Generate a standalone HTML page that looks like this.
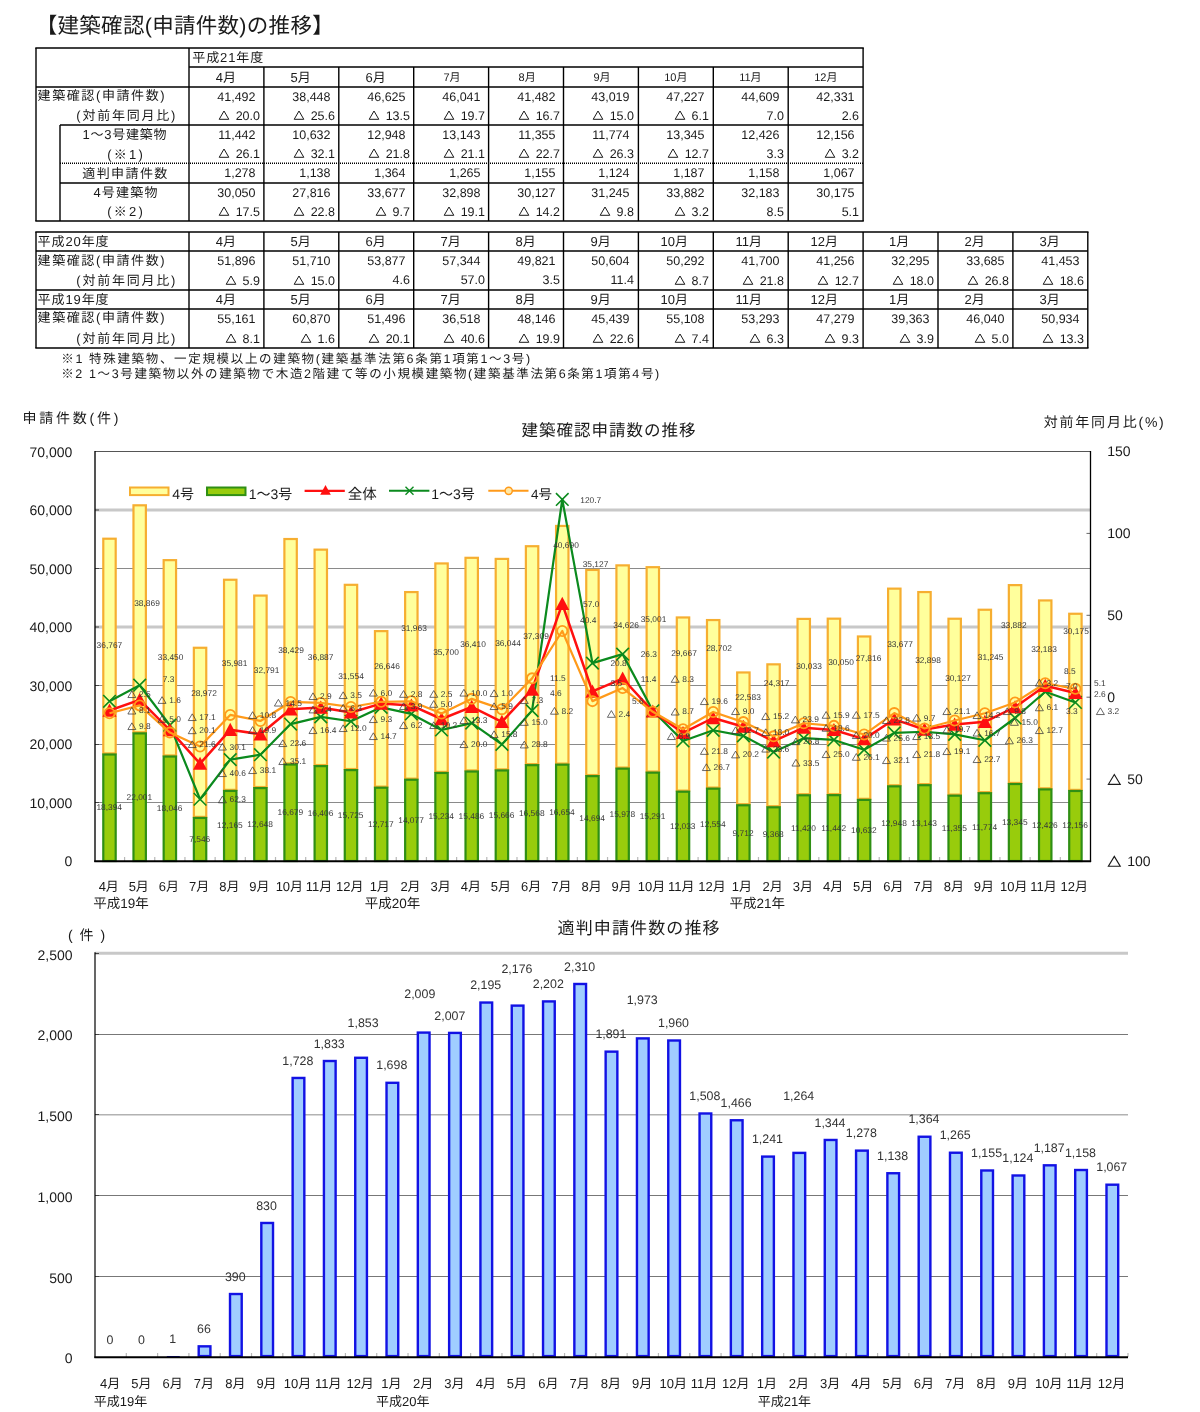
<!DOCTYPE html>
<html lang="ja"><head><meta charset="utf-8"><title>建築確認(申請件数)の推移</title>
<style>
html,body{margin:0;padding:0;background:#fff}
body{width:1200px;height:1412px;overflow:hidden;position:relative;font-family:"Liberation Sans","Noto Sans CJK JP",sans-serif;color:#1a1a1a;text-rendering:geometricPrecision;-webkit-font-smoothing:antialiased}
#page{position:absolute;left:0;top:0;width:1200px;height:1412px;overflow:hidden;background:#fff;filter:blur(.6px)}
svg{display:block;overflow:visible}
svg.j{fill:#1a1a1a}
svg.tri{display:inline-block;vertical-align:-1.5px;margin-right:2.5px}
table.t{position:absolute;border-collapse:collapse;table-layout:fixed;font-size:12.5px;line-height:12px}
table.t td,table.t th{padding:0;margin:0;border:0;font-weight:normal;white-space:nowrap;overflow:visible;vertical-align:middle}
table.t td.n{text-align:right;padding-right:8.5px}
table.t td.p{text-align:right;padding-right:4px}
table.t td.l{text-align:left}
.sr{position:absolute;width:1px;height:1px;margin:0;padding:0;overflow:hidden;clip:rect(0 0 0 0);clip-path:inset(50%);white-space:nowrap;font-size:12px;line-height:12px}
svg text{font-family:"Liberation Sans","Noto Sans CJK JP",sans-serif;text-rendering:geometricPrecision}
</style></head>
<body><div id="page">
<h1 style="position:absolute;left:0;top:0;margin:0;width:400px;height:44px;font-size:20px;font-weight:normal"><svg width="400" height="44" viewBox="0 0 400 44" fill="#1a1a1a"><text x="35.69" y="33.2" font-size="21.5" textLength="298">【建築確認(申請件数)の推移】</text></svg></h1><table class="t" style="left:36px;top:48px;width:827px"><colgroup><col style="width:153px"><col style="width:75px"><col style="width:75px"><col style="width:75px"><col style="width:75px"><col style="width:75px"><col style="width:74px"><col style="width:75px"><col style="width:75px"><col style="width:75px"></colgroup><tr style="height:19px"><td rowspan="2"></td><td colspan="9" class="l"><svg class="j" width="120" height="19" viewBox="0 0 120 19"><text x="3.29" y="14.04" font-size="13" textLength="71">平成21年度</text></svg></td></tr><tr style="height:20px"><td class="m"><svg class="j" width="74" height="19" viewBox="0 0 74 19"><text x="26.68" y="14.04" font-size="13">4月</text></svg></td><td class="m"><svg class="j" width="74" height="19" viewBox="0 0 74 19"><text x="26.49" y="14.04" font-size="13">5月</text></svg></td><td class="m"><svg class="j" width="74" height="19" viewBox="0 0 74 19"><text x="26.5" y="14.04" font-size="13">6月</text></svg></td><td class="m"><svg class="j" width="74" height="19" viewBox="0 0 74 19"><text x="29.47" y="13.12" font-size="11">7月</text></svg></td><td class="m"><svg class="j" width="74" height="19" viewBox="0 0 74 19"><text x="29.56" y="13.12" font-size="11">8月</text></svg></td><td class="m"><svg class="j" width="74" height="19" viewBox="0 0 74 19"><text x="29.45" y="13.12" font-size="11">9月</text></svg></td><td class="m"><svg class="j" width="74" height="19" viewBox="0 0 74 19"><text x="26.15" y="13.12" font-size="11">10月</text></svg></td><td class="m"><svg class="j" width="74" height="19" viewBox="0 0 74 19"><text x="26.15" y="13.12" font-size="11">11月</text></svg></td><td class="m"><svg class="j" width="74" height="19" viewBox="0 0 74 19"><text x="26.15" y="13.12" font-size="11">12月</text></svg></td></tr><tr style="height:19px"><th><svg class="j" width="153" height="19" viewBox="0 0 153 19"><text x="1.59" y="12.54" font-size="13" textLength="127">建築確認(申請件数)</text></svg></th><td class="n">41,492</td><td class="n">38,448</td><td class="n">46,625</td><td class="n">46,041</td><td class="n">41,482</td><td class="n">43,019</td><td class="n">47,227</td><td class="n">44,609</td><td class="n">42,331</td></tr><tr style="height:19px"><th><svg class="j" width="153" height="19" viewBox="0 0 153 19"><text x="40.31" y="14.04" font-size="13" textLength="99">(対前年同月比)</text></svg></th><td class="p"><span class="sr">△</span><svg class="tri" width="12" height="12" viewBox="0 0 12 12"><path d="M6 2 L10.8 10.3 H1.2 Z" fill="none" stroke="#1a1a1a" stroke-width="1"/></svg> 20.0</td><td class="p"><span class="sr">△</span><svg class="tri" width="12" height="12" viewBox="0 0 12 12"><path d="M6 2 L10.8 10.3 H1.2 Z" fill="none" stroke="#1a1a1a" stroke-width="1"/></svg> 25.6</td><td class="p"><span class="sr">△</span><svg class="tri" width="12" height="12" viewBox="0 0 12 12"><path d="M6 2 L10.8 10.3 H1.2 Z" fill="none" stroke="#1a1a1a" stroke-width="1"/></svg> 13.5</td><td class="p"><span class="sr">△</span><svg class="tri" width="12" height="12" viewBox="0 0 12 12"><path d="M6 2 L10.8 10.3 H1.2 Z" fill="none" stroke="#1a1a1a" stroke-width="1"/></svg> 19.7</td><td class="p"><span class="sr">△</span><svg class="tri" width="12" height="12" viewBox="0 0 12 12"><path d="M6 2 L10.8 10.3 H1.2 Z" fill="none" stroke="#1a1a1a" stroke-width="1"/></svg> 16.7</td><td class="p"><span class="sr">△</span><svg class="tri" width="12" height="12" viewBox="0 0 12 12"><path d="M6 2 L10.8 10.3 H1.2 Z" fill="none" stroke="#1a1a1a" stroke-width="1"/></svg> 15.0</td><td class="p"><span class="sr">△</span><svg class="tri" width="12" height="12" viewBox="0 0 12 12"><path d="M6 2 L10.8 10.3 H1.2 Z" fill="none" stroke="#1a1a1a" stroke-width="1"/></svg> 6.1</td><td class="p">7.0</td><td class="p">2.6</td></tr><tr style="height:19px"><th><svg class="j" width="153" height="19" viewBox="0 0 153 19"><text x="46.54" y="14.04" font-size="13" textLength="84">1〜3号建築物</text></svg></th><td class="n">11,442</td><td class="n">10,632</td><td class="n">12,948</td><td class="n">13,143</td><td class="n">11,355</td><td class="n">11,774</td><td class="n">13,345</td><td class="n">12,426</td><td class="n">12,156</td></tr><tr style="height:19px"><th><svg class="j" width="153" height="19" viewBox="0 0 153 19"><text x="71.25" y="14.74" font-size="13" textLength="35.5">(※1)</text></svg></th><td class="p"><span class="sr">△</span><svg class="tri" width="12" height="12" viewBox="0 0 12 12"><path d="M6 2 L10.8 10.3 H1.2 Z" fill="none" stroke="#1a1a1a" stroke-width="1"/></svg> 26.1</td><td class="p"><span class="sr">△</span><svg class="tri" width="12" height="12" viewBox="0 0 12 12"><path d="M6 2 L10.8 10.3 H1.2 Z" fill="none" stroke="#1a1a1a" stroke-width="1"/></svg> 32.1</td><td class="p"><span class="sr">△</span><svg class="tri" width="12" height="12" viewBox="0 0 12 12"><path d="M6 2 L10.8 10.3 H1.2 Z" fill="none" stroke="#1a1a1a" stroke-width="1"/></svg> 21.8</td><td class="p"><span class="sr">△</span><svg class="tri" width="12" height="12" viewBox="0 0 12 12"><path d="M6 2 L10.8 10.3 H1.2 Z" fill="none" stroke="#1a1a1a" stroke-width="1"/></svg> 21.1</td><td class="p"><span class="sr">△</span><svg class="tri" width="12" height="12" viewBox="0 0 12 12"><path d="M6 2 L10.8 10.3 H1.2 Z" fill="none" stroke="#1a1a1a" stroke-width="1"/></svg> 22.7</td><td class="p"><span class="sr">△</span><svg class="tri" width="12" height="12" viewBox="0 0 12 12"><path d="M6 2 L10.8 10.3 H1.2 Z" fill="none" stroke="#1a1a1a" stroke-width="1"/></svg> 26.3</td><td class="p"><span class="sr">△</span><svg class="tri" width="12" height="12" viewBox="0 0 12 12"><path d="M6 2 L10.8 10.3 H1.2 Z" fill="none" stroke="#1a1a1a" stroke-width="1"/></svg> 12.7</td><td class="p">3.3</td><td class="p"><span class="sr">△</span><svg class="tri" width="12" height="12" viewBox="0 0 12 12"><path d="M6 2 L10.8 10.3 H1.2 Z" fill="none" stroke="#1a1a1a" stroke-width="1"/></svg> 3.2</td></tr><tr style="height:20px"><th><svg class="j" width="153" height="20" viewBox="0 0 153 20"><text x="46.32" y="15.24" font-size="13" textLength="85">適判申請件数</text></svg></th><td class="n">1,278</td><td class="n">1,138</td><td class="n">1,364</td><td class="n">1,265</td><td class="n">1,155</td><td class="n">1,124</td><td class="n">1,187</td><td class="n">1,158</td><td class="n">1,067</td></tr><tr style="height:19px"><th><svg class="j" width="153" height="19" viewBox="0 0 153 19"><text x="57.43" y="14.34" font-size="13" textLength="64">4号建築物</text></svg></th><td class="n">30,050</td><td class="n">27,816</td><td class="n">33,677</td><td class="n">32,898</td><td class="n">30,127</td><td class="n">31,245</td><td class="n">33,882</td><td class="n">32,183</td><td class="n">30,175</td></tr><tr style="height:19px"><th><svg class="j" width="153" height="19" viewBox="0 0 153 19"><text x="71.25" y="14.04" font-size="13" textLength="35.5">(※2)</text></svg></th><td class="p"><span class="sr">△</span><svg class="tri" width="12" height="12" viewBox="0 0 12 12"><path d="M6 2 L10.8 10.3 H1.2 Z" fill="none" stroke="#1a1a1a" stroke-width="1"/></svg> 17.5</td><td class="p"><span class="sr">△</span><svg class="tri" width="12" height="12" viewBox="0 0 12 12"><path d="M6 2 L10.8 10.3 H1.2 Z" fill="none" stroke="#1a1a1a" stroke-width="1"/></svg> 22.8</td><td class="p"><span class="sr">△</span><svg class="tri" width="12" height="12" viewBox="0 0 12 12"><path d="M6 2 L10.8 10.3 H1.2 Z" fill="none" stroke="#1a1a1a" stroke-width="1"/></svg> 9.7</td><td class="p"><span class="sr">△</span><svg class="tri" width="12" height="12" viewBox="0 0 12 12"><path d="M6 2 L10.8 10.3 H1.2 Z" fill="none" stroke="#1a1a1a" stroke-width="1"/></svg> 19.1</td><td class="p"><span class="sr">△</span><svg class="tri" width="12" height="12" viewBox="0 0 12 12"><path d="M6 2 L10.8 10.3 H1.2 Z" fill="none" stroke="#1a1a1a" stroke-width="1"/></svg> 14.2</td><td class="p"><span class="sr">△</span><svg class="tri" width="12" height="12" viewBox="0 0 12 12"><path d="M6 2 L10.8 10.3 H1.2 Z" fill="none" stroke="#1a1a1a" stroke-width="1"/></svg> 9.8</td><td class="p"><span class="sr">△</span><svg class="tri" width="12" height="12" viewBox="0 0 12 12"><path d="M6 2 L10.8 10.3 H1.2 Z" fill="none" stroke="#1a1a1a" stroke-width="1"/></svg> 3.2</td><td class="p">8.5</td><td class="p">5.1</td></tr></table><table class="t" style="left:36px;top:232px;width:1052px"><colgroup><col style="width:153px"><col style="width:75px"><col style="width:75px"><col style="width:75px"><col style="width:75px"><col style="width:75px"><col style="width:74px"><col style="width:75px"><col style="width:75px"><col style="width:75px"><col style="width:75px"><col style="width:75px"><col style="width:75px"></colgroup><tr style="height:19px"><th><svg class="j" width="153" height="19" viewBox="0 0 153 19"><text x="1.59" y="14.04" font-size="13" textLength="71">平成20年度</text></svg></th><td class="m"><svg class="j" width="74" height="19" viewBox="0 0 74 19"><text x="26.68" y="14.04" font-size="13">4月</text></svg></td><td class="m"><svg class="j" width="74" height="19" viewBox="0 0 74 19"><text x="26.49" y="14.04" font-size="13">5月</text></svg></td><td class="m"><svg class="j" width="74" height="19" viewBox="0 0 74 19"><text x="26.5" y="14.04" font-size="13">6月</text></svg></td><td class="m"><svg class="j" width="74" height="19" viewBox="0 0 74 19"><text x="26.5" y="14.04" font-size="13">7月</text></svg></td><td class="m"><svg class="j" width="74" height="19" viewBox="0 0 74 19"><text x="26.6" y="14.04" font-size="13">8月</text></svg></td><td class="m"><svg class="j" width="74" height="19" viewBox="0 0 74 19"><text x="26.47" y="14.04" font-size="13">9月</text></svg></td><td class="m"><svg class="j" width="74" height="19" viewBox="0 0 74 19"><text x="22.47" y="14.04" font-size="13">10月</text></svg></td><td class="m"><svg class="j" width="74" height="19" viewBox="0 0 74 19"><text x="22.47" y="14.04" font-size="13">11月</text></svg></td><td class="m"><svg class="j" width="74" height="19" viewBox="0 0 74 19"><text x="22.47" y="14.04" font-size="13">12月</text></svg></td><td class="m"><svg class="j" width="74" height="19" viewBox="0 0 74 19"><text x="26.02" y="14.04" font-size="13">1月</text></svg></td><td class="m"><svg class="j" width="74" height="19" viewBox="0 0 74 19"><text x="26.58" y="14.04" font-size="13">2月</text></svg></td><td class="m"><svg class="j" width="74" height="19" viewBox="0 0 74 19"><text x="26.56" y="14.04" font-size="13">3月</text></svg></td></tr><tr style="height:19px"><th><svg class="j" width="153" height="19" viewBox="0 0 153 19"><text x="1.59" y="14.04" font-size="13" textLength="127">建築確認(申請件数)</text></svg></th><td class="n">51,896</td><td class="n">51,710</td><td class="n">53,877</td><td class="n">57,344</td><td class="n">49,821</td><td class="n">50,604</td><td class="n">50,292</td><td class="n">41,700</td><td class="n">41,256</td><td class="n">32,295</td><td class="n">33,685</td><td class="n">41,453</td></tr><tr style="height:20px"><th><svg class="j" width="153" height="20" viewBox="0 0 153 20"><text x="40.31" y="14.54" font-size="13" textLength="99">(対前年同月比)</text></svg></th><td class="p"><span class="sr">△</span><svg class="tri" width="12" height="12" viewBox="0 0 12 12"><path d="M6 2 L10.8 10.3 H1.2 Z" fill="none" stroke="#1a1a1a" stroke-width="1"/></svg> 5.9</td><td class="p"><span class="sr">△</span><svg class="tri" width="12" height="12" viewBox="0 0 12 12"><path d="M6 2 L10.8 10.3 H1.2 Z" fill="none" stroke="#1a1a1a" stroke-width="1"/></svg> 15.0</td><td class="p">4.6</td><td class="p">57.0</td><td class="p">3.5</td><td class="p">11.4</td><td class="p"><span class="sr">△</span><svg class="tri" width="12" height="12" viewBox="0 0 12 12"><path d="M6 2 L10.8 10.3 H1.2 Z" fill="none" stroke="#1a1a1a" stroke-width="1"/></svg> 8.7</td><td class="p"><span class="sr">△</span><svg class="tri" width="12" height="12" viewBox="0 0 12 12"><path d="M6 2 L10.8 10.3 H1.2 Z" fill="none" stroke="#1a1a1a" stroke-width="1"/></svg> 21.8</td><td class="p"><span class="sr">△</span><svg class="tri" width="12" height="12" viewBox="0 0 12 12"><path d="M6 2 L10.8 10.3 H1.2 Z" fill="none" stroke="#1a1a1a" stroke-width="1"/></svg> 12.7</td><td class="p"><span class="sr">△</span><svg class="tri" width="12" height="12" viewBox="0 0 12 12"><path d="M6 2 L10.8 10.3 H1.2 Z" fill="none" stroke="#1a1a1a" stroke-width="1"/></svg> 18.0</td><td class="p"><span class="sr">△</span><svg class="tri" width="12" height="12" viewBox="0 0 12 12"><path d="M6 2 L10.8 10.3 H1.2 Z" fill="none" stroke="#1a1a1a" stroke-width="1"/></svg> 26.8</td><td class="p"><span class="sr">△</span><svg class="tri" width="12" height="12" viewBox="0 0 12 12"><path d="M6 2 L10.8 10.3 H1.2 Z" fill="none" stroke="#1a1a1a" stroke-width="1"/></svg> 18.6</td></tr><tr style="height:19px"><th><svg class="j" width="153" height="19" viewBox="0 0 153 19"><text x="1.59" y="14.04" font-size="13" textLength="71">平成19年度</text></svg></th><td class="m"><svg class="j" width="74" height="19" viewBox="0 0 74 19"><text x="26.68" y="14.04" font-size="13">4月</text></svg></td><td class="m"><svg class="j" width="74" height="19" viewBox="0 0 74 19"><text x="26.49" y="14.04" font-size="13">5月</text></svg></td><td class="m"><svg class="j" width="74" height="19" viewBox="0 0 74 19"><text x="26.5" y="14.04" font-size="13">6月</text></svg></td><td class="m"><svg class="j" width="74" height="19" viewBox="0 0 74 19"><text x="26.5" y="14.04" font-size="13">7月</text></svg></td><td class="m"><svg class="j" width="74" height="19" viewBox="0 0 74 19"><text x="26.6" y="14.04" font-size="13">8月</text></svg></td><td class="m"><svg class="j" width="74" height="19" viewBox="0 0 74 19"><text x="26.47" y="14.04" font-size="13">9月</text></svg></td><td class="m"><svg class="j" width="74" height="19" viewBox="0 0 74 19"><text x="22.47" y="14.04" font-size="13">10月</text></svg></td><td class="m"><svg class="j" width="74" height="19" viewBox="0 0 74 19"><text x="22.47" y="14.04" font-size="13">11月</text></svg></td><td class="m"><svg class="j" width="74" height="19" viewBox="0 0 74 19"><text x="22.47" y="14.04" font-size="13">12月</text></svg></td><td class="m"><svg class="j" width="74" height="19" viewBox="0 0 74 19"><text x="26.02" y="14.04" font-size="13">1月</text></svg></td><td class="m"><svg class="j" width="74" height="19" viewBox="0 0 74 19"><text x="26.58" y="14.04" font-size="13">2月</text></svg></td><td class="m"><svg class="j" width="74" height="19" viewBox="0 0 74 19"><text x="26.56" y="14.04" font-size="13">3月</text></svg></td></tr><tr style="height:19px"><th><svg class="j" width="153" height="19" viewBox="0 0 153 19"><text x="1.59" y="13.24" font-size="13" textLength="127">建築確認(申請件数)</text></svg></th><td class="n">55,161</td><td class="n">60,870</td><td class="n">51,496</td><td class="n">36,518</td><td class="n">48,146</td><td class="n">45,439</td><td class="n">55,108</td><td class="n">53,293</td><td class="n">47,279</td><td class="n">39,363</td><td class="n">46,040</td><td class="n">50,934</td></tr><tr style="height:20px"><th><svg class="j" width="153" height="20" viewBox="0 0 153 20"><text x="40.31" y="14.54" font-size="13" textLength="99">(対前年同月比)</text></svg></th><td class="p"><span class="sr">△</span><svg class="tri" width="12" height="12" viewBox="0 0 12 12"><path d="M6 2 L10.8 10.3 H1.2 Z" fill="none" stroke="#1a1a1a" stroke-width="1"/></svg> 8.1</td><td class="p"><span class="sr">△</span><svg class="tri" width="12" height="12" viewBox="0 0 12 12"><path d="M6 2 L10.8 10.3 H1.2 Z" fill="none" stroke="#1a1a1a" stroke-width="1"/></svg> 1.6</td><td class="p"><span class="sr">△</span><svg class="tri" width="12" height="12" viewBox="0 0 12 12"><path d="M6 2 L10.8 10.3 H1.2 Z" fill="none" stroke="#1a1a1a" stroke-width="1"/></svg> 20.1</td><td class="p"><span class="sr">△</span><svg class="tri" width="12" height="12" viewBox="0 0 12 12"><path d="M6 2 L10.8 10.3 H1.2 Z" fill="none" stroke="#1a1a1a" stroke-width="1"/></svg> 40.6</td><td class="p"><span class="sr">△</span><svg class="tri" width="12" height="12" viewBox="0 0 12 12"><path d="M6 2 L10.8 10.3 H1.2 Z" fill="none" stroke="#1a1a1a" stroke-width="1"/></svg> 19.9</td><td class="p"><span class="sr">△</span><svg class="tri" width="12" height="12" viewBox="0 0 12 12"><path d="M6 2 L10.8 10.3 H1.2 Z" fill="none" stroke="#1a1a1a" stroke-width="1"/></svg> 22.6</td><td class="p"><span class="sr">△</span><svg class="tri" width="12" height="12" viewBox="0 0 12 12"><path d="M6 2 L10.8 10.3 H1.2 Z" fill="none" stroke="#1a1a1a" stroke-width="1"/></svg> 7.4</td><td class="p"><span class="sr">△</span><svg class="tri" width="12" height="12" viewBox="0 0 12 12"><path d="M6 2 L10.8 10.3 H1.2 Z" fill="none" stroke="#1a1a1a" stroke-width="1"/></svg> 6.3</td><td class="p"><span class="sr">△</span><svg class="tri" width="12" height="12" viewBox="0 0 12 12"><path d="M6 2 L10.8 10.3 H1.2 Z" fill="none" stroke="#1a1a1a" stroke-width="1"/></svg> 9.3</td><td class="p"><span class="sr">△</span><svg class="tri" width="12" height="12" viewBox="0 0 12 12"><path d="M6 2 L10.8 10.3 H1.2 Z" fill="none" stroke="#1a1a1a" stroke-width="1"/></svg> 3.9</td><td class="p"><span class="sr">△</span><svg class="tri" width="12" height="12" viewBox="0 0 12 12"><path d="M6 2 L10.8 10.3 H1.2 Z" fill="none" stroke="#1a1a1a" stroke-width="1"/></svg> 5.0</td><td class="p"><span class="sr">△</span><svg class="tri" width="12" height="12" viewBox="0 0 12 12"><path d="M6 2 L10.8 10.3 H1.2 Z" fill="none" stroke="#1a1a1a" stroke-width="1"/></svg> 13.3</td></tr></table><svg style="position:absolute;left:0px;top:40px" width="1200" height="320" viewBox="0 40 1200 320" class="grid"><g stroke="#000" stroke-width="1.4" fill="none"><path d="M35.3 48L863.8 48"/><path d="M35.3 221L863.8 221"/><path d="M36 48L36 221"/><path d="M863.1 48L863.1 221"/><path d="M189 48L189 221"/><path d="M263.9 67L263.9 221"/><path d="M338.8 67L338.8 221"/><path d="M413.7 67L413.7 221"/><path d="M488.6 67L488.6 221"/><path d="M563.5 67L563.5 221"/><path d="M638.4 67L638.4 221"/><path d="M713.3 67L713.3 221"/><path d="M788.2 67L788.2 221"/><path d="M189 67L863.1 67"/><path d="M36 87L863.1 87"/><path d="M60 125L863.1 125"/><path d="M60 125L60 221"/><path d="M60 163.3L863.1 163.3" stroke-dasharray="1 1" stroke-width="1.5"/><path d="M60 183L863.1 183"/><path d="M35.3 232L1088.5 232"/><path d="M35.3 348L1088.5 348"/><path d="M36 232L36 348"/><path d="M189 232L189 348"/><path d="M263.9 232L263.9 348"/><path d="M338.8 232L338.8 348"/><path d="M413.7 232L413.7 348"/><path d="M488.6 232L488.6 348"/><path d="M563.5 232L563.5 348"/><path d="M638.4 232L638.4 348"/><path d="M713.3 232L713.3 348"/><path d="M788.2 232L788.2 348"/><path d="M863.1 232L863.1 348"/><path d="M938 232L938 348"/><path d="M1012.9 232L1012.9 348"/><path d="M1087.8 232L1087.8 348"/><path d="M36 251L1087.8 251"/><path d="M36 290L1087.8 290"/><path d="M36 309L1087.8 309"/></g></svg><svg style="position:absolute;left:0px;top:350px" width="1200" height="36" viewBox="0 350 1200 36"><g fill="#1a1a1a" font-size="12.5"><text x="61.21" y="362.6" textLength="469">※1 特殊建築物、一定規模以上の建築物(建築基準法第6条第1項第1〜3号)</text><text x="61.22" y="378" textLength="598">※2 1〜3号建築物以外の建築物で木造2階建て等の小規模建築物(建築基準法第6条第1項第4号)</text></g></svg><svg style="position:absolute;left:0px;top:400px" width="1200" height="520" viewBox="0 400 1200 520"><g fill="#1a1a1a"><text x="22.44" y="423.3" font-size="14" textLength="96">申請件数(件)</text><text x="1043.78" y="426.6" font-size="14" textLength="120">対前年同月比(%)</text><text x="521.62" y="436.4" font-size="16.5" textLength="174">建築確認申請数の推移</text></g><path d="M95 802.5H1090.5" stroke="#8a8a8a" stroke-width="1"/><path d="M95 744.5H1090.5" stroke="#8a8a8a" stroke-width="1"/><path d="M95 685.5H1090.5" stroke="#8a8a8a" stroke-width="1"/><path d="M95 627H1090.5" stroke="#c8c8c8" stroke-width="3"/><path d="M95 568.5H1090.5" stroke="#8a8a8a" stroke-width="1"/><path d="M95 510H1090.5" stroke="#c8c8c8" stroke-width="3"/><path d="M95 451.5H1090.5" stroke="#555" stroke-width="1.1"/><path d="M124.58 861v-4M154.77 861v-4M184.95 861v-4M215.14 861v-4M245.32 861v-4M275.51 861v-4M305.69 861v-4M335.88 861v-4M366.06 861v-4M396.25 861v-4M426.43 861v-4M456.62 861v-4M486.8 861v-4M516.99 861v-4M547.17 861v-4M577.36 861v-4M607.54 861v-4M637.73 861v-4M667.91 861v-4M698.1 861v-4M728.28 861v-4M758.47 861v-4M788.65 861v-4M818.84 861v-4M849.02 861v-4M879.21 861v-4M909.39 861v-4M939.58 861v-4M969.76 861v-4M999.95 861v-4M1030.13 861v-4M1060.32 861v-4" stroke="#b8b8b8" stroke-width="1.2" fill="none"/><path d="M1090.5 533.4h-4M1090.5 615.3h-4M1090.5 697.2h-4M1090.5 779.1h-4" stroke="#666" stroke-width="1" fill="none"/><path d="M95 802.5h4M95 744.5h4M95 685.5h4M95 627h4M95 568.5h4M95 510h4" stroke="#444" stroke-width="1" fill="none"/><g><rect x="103.29" y="538.71" width="12.4" height="214.69" fill="#FFFF9C" stroke="#F6AE30" stroke-width="2.2"/><rect x="103.29" y="754.5" width="12.4" height="106.5" fill="#98CC0C" stroke="#2F8F14" stroke-width="2.2"/><rect x="133.48" y="505.31" width="12.4" height="226.98" fill="#FFFF9C" stroke="#F6AE30" stroke-width="2.2"/><rect x="133.48" y="733.39" width="12.4" height="127.61" fill="#98CC0C" stroke="#2F8F14" stroke-width="2.2"/><rect x="163.66" y="560.15" width="12.4" height="195.28" fill="#FFFF9C" stroke="#F6AE30" stroke-width="2.2"/><rect x="163.66" y="756.53" width="12.4" height="104.47" fill="#98CC0C" stroke="#2F8F14" stroke-width="2.2"/><rect x="193.85" y="647.77" width="12.4" height="169.09" fill="#FFFF9C" stroke="#F6AE30" stroke-width="2.2"/><rect x="193.85" y="817.96" width="12.4" height="43.04" fill="#98CC0C" stroke="#2F8F14" stroke-width="2.2"/><rect x="224.03" y="579.75" width="12.4" height="210.09" fill="#FFFF9C" stroke="#F6AE30" stroke-width="2.2"/><rect x="224.03" y="790.93" width="12.4" height="70.07" fill="#98CC0C" stroke="#2F8F14" stroke-width="2.2"/><rect x="254.22" y="595.58" width="12.4" height="191.43" fill="#FFFF9C" stroke="#F6AE30" stroke-width="2.2"/><rect x="254.22" y="788.11" width="12.4" height="72.89" fill="#98CC0C" stroke="#2F8F14" stroke-width="2.2"/><rect x="284.4" y="539.02" width="12.4" height="224.41" fill="#FFFF9C" stroke="#F6AE30" stroke-width="2.2"/><rect x="284.4" y="764.53" width="12.4" height="96.47" fill="#98CC0C" stroke="#2F8F14" stroke-width="2.2"/><rect x="314.59" y="549.64" width="12.4" height="215.39" fill="#FFFF9C" stroke="#F6AE30" stroke-width="2.2"/><rect x="314.59" y="766.12" width="12.4" height="94.88" fill="#98CC0C" stroke="#2F8F14" stroke-width="2.2"/><rect x="344.77" y="584.82" width="12.4" height="184.19" fill="#FFFF9C" stroke="#F6AE30" stroke-width="2.2"/><rect x="344.77" y="770.11" width="12.4" height="90.89" fill="#98CC0C" stroke="#2F8F14" stroke-width="2.2"/><rect x="374.96" y="631.13" width="12.4" height="155.48" fill="#FFFF9C" stroke="#F6AE30" stroke-width="2.2"/><rect x="374.96" y="787.71" width="12.4" height="73.29" fill="#98CC0C" stroke="#2F8F14" stroke-width="2.2"/><rect x="405.14" y="592.07" width="12.4" height="186.58" fill="#FFFF9C" stroke="#F6AE30" stroke-width="2.2"/><rect x="405.14" y="779.75" width="12.4" height="81.25" fill="#98CC0C" stroke="#2F8F14" stroke-width="2.2"/><rect x="435.33" y="563.44" width="12.4" height="208.45" fill="#FFFF9C" stroke="#F6AE30" stroke-width="2.2"/><rect x="435.33" y="772.98" width="12.4" height="88.02" fill="#98CC0C" stroke="#2F8F14" stroke-width="2.2"/><rect x="465.51" y="557.81" width="12.4" height="212.6" fill="#FFFF9C" stroke="#F6AE30" stroke-width="2.2"/><rect x="465.51" y="771.51" width="12.4" height="89.49" fill="#98CC0C" stroke="#2F8F14" stroke-width="2.2"/><rect x="495.7" y="558.9" width="12.4" height="210.46" fill="#FFFF9C" stroke="#F6AE30" stroke-width="2.2"/><rect x="495.7" y="770.45" width="12.4" height="90.55" fill="#98CC0C" stroke="#2F8F14" stroke-width="2.2"/><rect x="525.88" y="546.22" width="12.4" height="217.86" fill="#FFFF9C" stroke="#F6AE30" stroke-width="2.2"/><rect x="525.88" y="765.18" width="12.4" height="95.82" fill="#98CC0C" stroke="#2F8F14" stroke-width="2.2"/><rect x="556.07" y="525.94" width="12.4" height="237.64" fill="#FFFF9C" stroke="#F6AE30" stroke-width="2.2"/><rect x="556.07" y="764.67" width="12.4" height="96.33" fill="#98CC0C" stroke="#2F8F14" stroke-width="2.2"/><rect x="586.25" y="569.95" width="12.4" height="205.09" fill="#FFFF9C" stroke="#F6AE30" stroke-width="2.2"/><rect x="586.25" y="776.14" width="12.4" height="84.86" fill="#98CC0C" stroke="#2F8F14" stroke-width="2.2"/><rect x="616.43" y="565.37" width="12.4" height="202.16" fill="#FFFF9C" stroke="#F6AE30" stroke-width="2.2"/><rect x="616.43" y="768.63" width="12.4" height="92.37" fill="#98CC0C" stroke="#2F8F14" stroke-width="2.2"/><rect x="646.62" y="567.19" width="12.4" height="204.36" fill="#FFFF9C" stroke="#F6AE30" stroke-width="2.2"/><rect x="646.62" y="772.65" width="12.4" height="88.35" fill="#98CC0C" stroke="#2F8F14" stroke-width="2.2"/><rect x="676.8" y="617.46" width="12.4" height="173.15" fill="#FFFF9C" stroke="#F6AE30" stroke-width="2.2"/><rect x="676.8" y="791.71" width="12.4" height="69.29" fill="#98CC0C" stroke="#2F8F14" stroke-width="2.2"/><rect x="706.99" y="620.05" width="12.4" height="167.51" fill="#FFFF9C" stroke="#F6AE30" stroke-width="2.2"/><rect x="706.99" y="788.66" width="12.4" height="72.34" fill="#98CC0C" stroke="#2F8F14" stroke-width="2.2"/><rect x="737.17" y="672.47" width="12.4" height="131.71" fill="#FFFF9C" stroke="#F6AE30" stroke-width="2.2"/><rect x="737.17" y="805.28" width="12.4" height="55.72" fill="#98CC0C" stroke="#2F8F14" stroke-width="2.2"/><rect x="767.36" y="664.34" width="12.4" height="141.85" fill="#FFFF9C" stroke="#F6AE30" stroke-width="2.2"/><rect x="767.36" y="807.3" width="12.4" height="53.7" fill="#98CC0C" stroke="#2F8F14" stroke-width="2.2"/><rect x="797.54" y="618.9" width="12.4" height="175.29" fill="#FFFF9C" stroke="#F6AE30" stroke-width="2.2"/><rect x="797.54" y="795.29" width="12.4" height="65.71" fill="#98CC0C" stroke="#2F8F14" stroke-width="2.2"/><rect x="827.73" y="618.67" width="12.4" height="175.39" fill="#FFFF9C" stroke="#F6AE30" stroke-width="2.2"/><rect x="827.73" y="795.16" width="12.4" height="65.84" fill="#98CC0C" stroke="#2F8F14" stroke-width="2.2"/><rect x="857.91" y="636.48" width="12.4" height="162.32" fill="#FFFF9C" stroke="#F6AE30" stroke-width="2.2"/><rect x="857.91" y="799.9" width="12.4" height="61.1" fill="#98CC0C" stroke="#2F8F14" stroke-width="2.2"/><rect x="888.1" y="588.64" width="12.4" height="196.61" fill="#FFFF9C" stroke="#F6AE30" stroke-width="2.2"/><rect x="888.1" y="786.35" width="12.4" height="74.65" fill="#98CC0C" stroke="#2F8F14" stroke-width="2.2"/><rect x="918.28" y="592.06" width="12.4" height="192.05" fill="#FFFF9C" stroke="#F6AE30" stroke-width="2.2"/><rect x="918.28" y="785.21" width="12.4" height="75.79" fill="#98CC0C" stroke="#2F8F14" stroke-width="2.2"/><rect x="948.47" y="618.73" width="12.4" height="175.84" fill="#FFFF9C" stroke="#F6AE30" stroke-width="2.2"/><rect x="948.47" y="795.67" width="12.4" height="65.33" fill="#98CC0C" stroke="#2F8F14" stroke-width="2.2"/><rect x="978.65" y="609.74" width="12.4" height="182.38" fill="#FFFF9C" stroke="#F6AE30" stroke-width="2.2"/><rect x="978.65" y="793.22" width="12.4" height="67.78" fill="#98CC0C" stroke="#2F8F14" stroke-width="2.2"/><rect x="1008.84" y="585.12" width="12.4" height="197.81" fill="#FFFF9C" stroke="#F6AE30" stroke-width="2.2"/><rect x="1008.84" y="784.03" width="12.4" height="76.97" fill="#98CC0C" stroke="#2F8F14" stroke-width="2.2"/><rect x="1039.02" y="600.44" width="12.4" height="187.87" fill="#FFFF9C" stroke="#F6AE30" stroke-width="2.2"/><rect x="1039.02" y="789.41" width="12.4" height="71.59" fill="#98CC0C" stroke="#2F8F14" stroke-width="2.2"/><rect x="1069.21" y="613.76" width="12.4" height="176.12" fill="#FFFF9C" stroke="#F6AE30" stroke-width="2.2"/><rect x="1069.21" y="790.99" width="12.4" height="70.01" fill="#98CC0C" stroke="#2F8F14" stroke-width="2.2"/></g><path d="M95 451V862" stroke="#000" stroke-width="1.35"/><path d="M1090.5 451V862" stroke="#000" stroke-width="1.3"/><path d="M94.3 861.3H1091.1" stroke="#000" stroke-width="1.9"/><polyline points="109.49,701.29 139.68,685.24 169.86,725.21 200.05,799.25 230.23,759.61 260.42,754.69 290.6,724.06 320.79,716.86 350.97,721.28 381.16,707.36 411.34,713.91 441.53,729.96 471.71,723.08 501.9,744.37 532.08,710.63 562.27,499.49 592.45,663.13 622.63,654.12 652.82,710.8 683,740.93 713.19,730.29 743.37,735.86 773.56,752.07 803.74,738.15 833.93,739.95 864.11,749.78 894.3,732.91 924.48,731.76 954.67,734.38 984.85,740.28 1015.04,718 1045.22,691.79 1075.41,702.44" fill="none" stroke="#0B8A1E" stroke-width="2.2" stroke-linejoin="round"/><path d="M103.19 695L115.79 707.59M103.19 707.59L115.79 695" stroke="#0B8A1E" stroke-width="1.6" fill="none"/><path d="M133.38 678.94L145.98 691.54M133.38 691.54L145.98 678.94" stroke="#0B8A1E" stroke-width="1.6" fill="none"/><path d="M163.56 718.91L176.16 731.51M163.56 731.51L176.16 718.91" stroke="#0B8A1E" stroke-width="1.6" fill="none"/><path d="M193.75 792.95L206.35 805.55M193.75 805.55L206.35 792.95" stroke="#0B8A1E" stroke-width="1.6" fill="none"/><path d="M223.93 753.31L236.53 765.91M223.93 765.91L236.53 753.31" stroke="#0B8A1E" stroke-width="1.6" fill="none"/><path d="M254.12 748.39L266.72 760.99M254.12 760.99L266.72 748.39" stroke="#0B8A1E" stroke-width="1.6" fill="none"/><path d="M284.3 717.76L296.9 730.36M284.3 730.36L296.9 717.76" stroke="#0B8A1E" stroke-width="1.6" fill="none"/><path d="M314.49 710.56L327.09 723.16M314.49 723.16L327.09 710.56" stroke="#0B8A1E" stroke-width="1.6" fill="none"/><path d="M344.67 714.98L357.27 727.58M344.67 727.58L357.27 714.98" stroke="#0B8A1E" stroke-width="1.6" fill="none"/><path d="M374.86 701.06L387.46 713.66M374.86 713.66L387.46 701.06" stroke="#0B8A1E" stroke-width="1.6" fill="none"/><path d="M405.04 707.61L417.64 720.21M405.04 720.21L417.64 707.61" stroke="#0B8A1E" stroke-width="1.6" fill="none"/><path d="M435.23 723.66L447.83 736.26M435.23 736.26L447.83 723.66" stroke="#0B8A1E" stroke-width="1.6" fill="none"/><path d="M465.41 716.78L478.01 729.38M465.41 729.38L478.01 716.78" stroke="#0B8A1E" stroke-width="1.6" fill="none"/><path d="M495.6 738.07L508.2 750.67M495.6 750.67L508.2 738.07" stroke="#0B8A1E" stroke-width="1.6" fill="none"/><path d="M525.78 704.33L538.38 716.93M525.78 716.93L538.38 704.33" stroke="#0B8A1E" stroke-width="1.6" fill="none"/><path d="M555.97 493.19L568.57 505.79M555.97 505.79L568.57 493.19" stroke="#0B8A1E" stroke-width="1.6" fill="none"/><path d="M586.15 656.83L598.75 669.43M586.15 669.43L598.75 656.83" stroke="#0B8A1E" stroke-width="1.6" fill="none"/><path d="M616.33 647.82L628.93 660.42M616.33 660.42L628.93 647.82" stroke="#0B8A1E" stroke-width="1.6" fill="none"/><path d="M646.52 704.5L659.12 717.1M646.52 717.1L659.12 704.5" stroke="#0B8A1E" stroke-width="1.6" fill="none"/><path d="M676.7 734.63L689.3 747.23M676.7 747.23L689.3 734.63" stroke="#0B8A1E" stroke-width="1.6" fill="none"/><path d="M706.89 723.99L719.49 736.59M706.89 736.59L719.49 723.99" stroke="#0B8A1E" stroke-width="1.6" fill="none"/><path d="M737.07 729.56L749.67 742.16M737.07 742.16L749.67 729.56" stroke="#0B8A1E" stroke-width="1.6" fill="none"/><path d="M767.26 745.77L779.86 758.37M767.26 758.37L779.86 745.77" stroke="#0B8A1E" stroke-width="1.6" fill="none"/><path d="M797.44 731.85L810.04 744.45M797.44 744.45L810.04 731.85" stroke="#0B8A1E" stroke-width="1.6" fill="none"/><path d="M827.63 733.65L840.23 746.25M827.63 746.25L840.23 733.65" stroke="#0B8A1E" stroke-width="1.6" fill="none"/><path d="M857.81 743.48L870.41 756.08M857.81 756.08L870.41 743.48" stroke="#0B8A1E" stroke-width="1.6" fill="none"/><path d="M888 726.61L900.6 739.21M888 739.21L900.6 726.61" stroke="#0B8A1E" stroke-width="1.6" fill="none"/><path d="M918.18 725.46L930.78 738.06M918.18 738.06L930.78 725.46" stroke="#0B8A1E" stroke-width="1.6" fill="none"/><path d="M948.37 728.08L960.97 740.68M948.37 740.68L960.97 728.08" stroke="#0B8A1E" stroke-width="1.6" fill="none"/><path d="M978.55 733.98L991.15 746.58M978.55 746.58L991.15 733.98" stroke="#0B8A1E" stroke-width="1.6" fill="none"/><path d="M1008.74 711.7L1021.34 724.3M1008.74 724.3L1021.34 711.7" stroke="#0B8A1E" stroke-width="1.6" fill="none"/><path d="M1038.92 685.49L1051.52 698.09M1038.92 698.09L1051.52 685.49" stroke="#0B8A1E" stroke-width="1.6" fill="none"/><path d="M1069.11 696.14L1081.71 708.74M1069.11 708.74L1081.71 696.14" stroke="#0B8A1E" stroke-width="1.6" fill="none"/><polyline points="109.49,710.47 139.68,699.82 169.86,730.12 200.05,763.7 230.23,729.8 260.42,734.22 290.6,709.32 320.79,707.52 350.97,712.43 381.16,703.59 411.34,705.39 441.53,718.99 471.71,706.86 501.9,721.77 532.08,689.67 562.27,603.83 592.45,691.47 622.63,678.53 652.82,711.45 683,732.91 713.19,718 743.37,726.68 773.56,741.1 803.74,727.67 833.93,729.96 864.11,739.13 894.3,719.31 924.48,729.47 954.67,724.55 984.85,721.77 1015.04,707.19 1045.22,685.73 1075.41,692.94" fill="none" stroke="#FF1010" stroke-width="2.5" stroke-linejoin="round"/><path d="M109.49 703.47L116.49 716.63H102.49Z" fill="#FF1010"/><path d="M139.68 692.82L146.68 705.98H132.68Z" fill="#FF1010"/><path d="M169.86 723.12L176.86 736.28H162.86Z" fill="#FF1010"/><path d="M200.05 756.7L207.05 769.86H193.05Z" fill="#FF1010"/><path d="M230.23 722.8L237.23 735.96H223.23Z" fill="#FF1010"/><path d="M260.42 727.22L267.42 740.38H253.42Z" fill="#FF1010"/><path d="M290.6 702.32L297.6 715.48H283.6Z" fill="#FF1010"/><path d="M320.79 700.52L327.79 713.68H313.79Z" fill="#FF1010"/><path d="M350.97 705.43L357.97 718.59H343.97Z" fill="#FF1010"/><path d="M381.16 696.59L388.16 709.75H374.16Z" fill="#FF1010"/><path d="M411.34 698.39L418.34 711.55H404.34Z" fill="#FF1010"/><path d="M441.53 711.99L448.53 725.15H434.53Z" fill="#FF1010"/><path d="M471.71 699.86L478.71 713.02H464.71Z" fill="#FF1010"/><path d="M501.9 714.77L508.9 727.93H494.9Z" fill="#FF1010"/><path d="M532.08 682.67L539.08 695.83H525.08Z" fill="#FF1010"/><path d="M562.27 596.83L569.27 609.99H555.27Z" fill="#FF1010"/><path d="M592.45 684.47L599.45 697.63H585.45Z" fill="#FF1010"/><path d="M622.63 671.53L629.63 684.69H615.63Z" fill="#FF1010"/><path d="M652.82 704.45L659.82 717.61H645.82Z" fill="#FF1010"/><path d="M683 725.91L690 739.07H676Z" fill="#FF1010"/><path d="M713.19 711L720.19 724.16H706.19Z" fill="#FF1010"/><path d="M743.37 719.68L750.37 732.84H736.37Z" fill="#FF1010"/><path d="M773.56 734.1L780.56 747.26H766.56Z" fill="#FF1010"/><path d="M803.74 720.67L810.74 733.83H796.74Z" fill="#FF1010"/><path d="M833.93 722.96L840.93 736.12H826.93Z" fill="#FF1010"/><path d="M864.11 732.13L871.11 745.29H857.11Z" fill="#FF1010"/><path d="M894.3 712.31L901.3 725.47H887.3Z" fill="#FF1010"/><path d="M924.48 722.47L931.48 735.63H917.48Z" fill="#FF1010"/><path d="M954.67 717.55L961.67 730.71H947.67Z" fill="#FF1010"/><path d="M984.85 714.77L991.85 727.93H977.85Z" fill="#FF1010"/><path d="M1015.04 700.19L1022.04 713.35H1008.04Z" fill="#FF1010"/><path d="M1045.22 678.73L1052.22 691.89H1038.22Z" fill="#FF1010"/><path d="M1075.41 685.94L1082.41 699.1H1068.41Z" fill="#FF1010"/><polyline points="109.49,713.25 139.68,705.39 169.86,732.58 200.05,746.5 230.23,714.89 260.42,720.95 290.6,701.95 320.79,702.93 350.97,707.03 381.16,701.79 411.34,701.29 441.53,713.58 471.71,698.84 501.9,709.16 532.08,678.36 562.27,631.02 592.45,701.13 622.63,688.03 652.82,711.78 683,729.3 713.19,711.94 743.37,722.1 773.56,736.35 803.74,723.24 833.93,725.87 864.11,734.55 894.3,713.09 924.48,728.49 954.67,720.46 984.85,713.25 1015.04,702.44 1045.22,683.28 1075.41,688.85" fill="none" stroke="#FF9A1A" stroke-width="2.2" stroke-linejoin="round"/><circle cx="109.49" cy="713.25" r="5.1" fill="none" stroke="#FF9A1A" stroke-width="1.8"/><circle cx="139.68" cy="705.39" r="5.1" fill="none" stroke="#FF9A1A" stroke-width="1.8"/><circle cx="169.86" cy="732.58" r="5.1" fill="none" stroke="#FF9A1A" stroke-width="1.8"/><circle cx="200.05" cy="746.5" r="5.1" fill="none" stroke="#FF9A1A" stroke-width="1.8"/><circle cx="230.23" cy="714.89" r="5.1" fill="none" stroke="#FF9A1A" stroke-width="1.8"/><circle cx="260.42" cy="720.95" r="5.1" fill="none" stroke="#FF9A1A" stroke-width="1.8"/><circle cx="290.6" cy="701.95" r="5.1" fill="none" stroke="#FF9A1A" stroke-width="1.8"/><circle cx="320.79" cy="702.93" r="5.1" fill="none" stroke="#FF9A1A" stroke-width="1.8"/><circle cx="350.97" cy="707.03" r="5.1" fill="none" stroke="#FF9A1A" stroke-width="1.8"/><circle cx="381.16" cy="701.79" r="5.1" fill="none" stroke="#FF9A1A" stroke-width="1.8"/><circle cx="411.34" cy="701.29" r="5.1" fill="none" stroke="#FF9A1A" stroke-width="1.8"/><circle cx="441.53" cy="713.58" r="5.1" fill="none" stroke="#FF9A1A" stroke-width="1.8"/><circle cx="471.71" cy="698.84" r="5.1" fill="none" stroke="#FF9A1A" stroke-width="1.8"/><circle cx="501.9" cy="709.16" r="5.1" fill="none" stroke="#FF9A1A" stroke-width="1.8"/><circle cx="532.08" cy="678.36" r="5.1" fill="none" stroke="#FF9A1A" stroke-width="1.8"/><circle cx="562.27" cy="631.02" r="5.1" fill="none" stroke="#FF9A1A" stroke-width="1.8"/><circle cx="592.45" cy="701.13" r="5.1" fill="none" stroke="#FF9A1A" stroke-width="1.8"/><circle cx="622.63" cy="688.03" r="5.1" fill="none" stroke="#FF9A1A" stroke-width="1.8"/><circle cx="652.82" cy="711.78" r="5.1" fill="none" stroke="#FF9A1A" stroke-width="1.8"/><circle cx="683" cy="729.3" r="5.1" fill="none" stroke="#FF9A1A" stroke-width="1.8"/><circle cx="713.19" cy="711.94" r="5.1" fill="none" stroke="#FF9A1A" stroke-width="1.8"/><circle cx="743.37" cy="722.1" r="5.1" fill="none" stroke="#FF9A1A" stroke-width="1.8"/><circle cx="773.56" cy="736.35" r="5.1" fill="none" stroke="#FF9A1A" stroke-width="1.8"/><circle cx="803.74" cy="723.24" r="5.1" fill="none" stroke="#FF9A1A" stroke-width="1.8"/><circle cx="833.93" cy="725.87" r="5.1" fill="none" stroke="#FF9A1A" stroke-width="1.8"/><circle cx="864.11" cy="734.55" r="5.1" fill="none" stroke="#FF9A1A" stroke-width="1.8"/><circle cx="894.3" cy="713.09" r="5.1" fill="none" stroke="#FF9A1A" stroke-width="1.8"/><circle cx="924.48" cy="728.49" r="5.1" fill="none" stroke="#FF9A1A" stroke-width="1.8"/><circle cx="954.67" cy="720.46" r="5.1" fill="none" stroke="#FF9A1A" stroke-width="1.8"/><circle cx="984.85" cy="713.25" r="5.1" fill="none" stroke="#FF9A1A" stroke-width="1.8"/><circle cx="1015.04" cy="702.44" r="5.1" fill="none" stroke="#FF9A1A" stroke-width="1.8"/><circle cx="1045.22" cy="683.28" r="5.1" fill="none" stroke="#FF9A1A" stroke-width="1.8"/><circle cx="1075.41" cy="688.85" r="5.1" fill="none" stroke="#FF9A1A" stroke-width="1.8"/><rect x="130" y="487.5" width="38.5" height="7.6" fill="#FFFF9C" stroke="#F6AE30" stroke-width="2"/><rect x="207" y="487.5" width="38.5" height="7.6" fill="#98CC0C" stroke="#2F8F14" stroke-width="2"/><path d="M304.6 490.8H344.8" stroke="#FF1010" stroke-width="2.2"/><path d="M325.5 484.9L330.8 494.86H320.2Z" fill="#FF1010"/><path d="M389 490.8H429.4" stroke="#0B8A1E" stroke-width="2"/><path d="M405.5 486.8L413.5 494.8M405.5 494.8L413.5 486.8" stroke="#0B8A1E" stroke-width="1.4" fill="none"/><path d="M488.3 490.8H528.5" stroke="#FF9A1A" stroke-width="2"/><circle cx="508.7" cy="490.8" r="3.6" fill="#FFE9A8" stroke="#FF9A1A" stroke-width="1.5"/><g fill="#1a1a1a"><text x="172.14" y="499" font-size="14">4号</text><text x="248.7" y="499" font-size="14">1〜3号</text><text x="347.76" y="499" font-size="14.5">全体</text><text x="431.2" y="499" font-size="14">1〜3号</text><text x="531.07" y="499" font-size="13.5">4号</text></g><g fill="#1a1a1a"><text x="72.3" y="866.21" font-size="14" text-anchor="end">0</text><text x="72.3" y="807.71" font-size="14" text-anchor="end">10,000</text><text x="72.3" y="749.21" font-size="14" text-anchor="end">20,000</text><text x="72.3" y="690.71" font-size="14" text-anchor="end">30,000</text><text x="72.3" y="632.21" font-size="14" text-anchor="end">40,000</text><text x="72.3" y="573.71" font-size="14" text-anchor="end">50,000</text><text x="72.3" y="515.21" font-size="14" text-anchor="end">60,000</text><text x="72.3" y="456.71" font-size="14" text-anchor="end">70,000</text><text x="1107.3" y="456.21" font-size="14">150</text><text x="1107.3" y="538.11" font-size="14">100</text><text x="1107.3" y="620.01" font-size="14">50</text><text x="1107.3" y="701.91" font-size="14">0</text><path d="M1114.3 774.5L1120.2 784.3H1108.4Z" fill="none" stroke="#1a1a1a" stroke-width="1.15"><title>△</title></path><text x="1127.3" y="783.91" font-size="14">50</text><path d="M1114.3 856.4L1120.2 866.2H1108.4Z" fill="none" stroke="#1a1a1a" stroke-width="1.15"><title>△</title></path><text x="1127.3" y="865.81" font-size="14">100</text></g><g fill="#1a1a1a" font-size="13"><text x="98.63" y="890.7">4月</text><text x="128.64" y="890.7">5月</text><text x="158.83" y="890.7">6月</text><text x="189.02" y="890.7">7月</text><text x="219.3" y="890.7">8月</text><text x="249.35" y="890.7">9月</text><text x="275.65" y="890.7">10月</text><text x="305.83" y="890.7">11月</text><text x="336.02" y="890.7">12月</text><text x="369.65" y="890.7">1月</text><text x="400.38" y="890.7">2月</text><text x="430.55" y="890.7">3月</text><text x="460.85" y="890.7">4月</text><text x="490.85" y="890.7">5月</text><text x="521.05" y="890.7">6月</text><text x="551.23" y="890.7">7月</text><text x="581.52" y="890.7">8月</text><text x="611.57" y="890.7">9月</text><text x="637.87" y="890.7">10月</text><text x="668.05" y="890.7">11月</text><text x="698.24" y="890.7">12月</text><text x="731.87" y="890.7">1月</text><text x="762.6" y="890.7">2月</text><text x="792.77" y="890.7">3月</text><text x="823.07" y="890.7">4月</text><text x="853.07" y="890.7">5月</text><text x="883.27" y="890.7">6月</text><text x="913.45" y="890.7">7月</text><text x="943.74" y="890.7">8月</text><text x="973.79" y="890.7">9月</text><text x="1000.08" y="890.7">10月</text><text x="1030.27" y="890.7">11月</text><text x="1060.45" y="890.7">12月</text><text x="93.19" y="907.8" font-size="13.5">平成19年</text><text x="364.85" y="907.8" font-size="13.5">平成20年</text><text x="729.57" y="907.8" font-size="13.5">平成21年</text></g><g fill="#383838"><text x="109.4" y="648.01" font-size="8.4" text-anchor="middle">36,767</text><text x="109.19" y="810.2" font-size="8.4" text-anchor="middle">18,394</text><text x="147" y="605.51" font-size="8.4" text-anchor="middle">38,869</text><text x="139.38" y="799.65" font-size="8.4" text-anchor="middle">22,001</text><text x="170.6" y="659.76" font-size="8.4" text-anchor="middle">33,450</text><text x="169.56" y="811.22" font-size="8.4" text-anchor="middle">18,046</text><text x="204" y="696.01" font-size="8.4" text-anchor="middle">28,972</text><text x="199.75" y="841.94" font-size="8.4" text-anchor="middle">7,546</text><text x="234.6" y="666.01" font-size="8.4" text-anchor="middle">35,981</text><text x="229.93" y="828.42" font-size="8.4" text-anchor="middle">12,165</text><text x="266.6" y="673.01" font-size="8.4" text-anchor="middle">32,791</text><text x="260.12" y="827.01" font-size="8.4" text-anchor="middle">12,648</text><text x="291" y="653.01" font-size="8.4" text-anchor="middle">38,429</text><text x="290.3" y="815.22" font-size="8.4" text-anchor="middle">16,679</text><text x="320.6" y="659.76" font-size="8.4" text-anchor="middle">36,887</text><text x="320.49" y="816.02" font-size="8.4" text-anchor="middle">16,406</text><text x="351" y="679.01" font-size="8.4" text-anchor="middle">31,554</text><text x="350.67" y="818.01" font-size="8.4" text-anchor="middle">15,725</text><text x="387" y="669.01" font-size="8.4" text-anchor="middle">26,646</text><text x="380.86" y="826.81" font-size="8.4" text-anchor="middle">12,717</text><text x="414" y="631.01" font-size="8.4" text-anchor="middle">31,963</text><text x="411.04" y="822.83" font-size="8.4" text-anchor="middle">14,077</text><text x="446" y="655.01" font-size="8.4" text-anchor="middle">35,700</text><text x="441.23" y="819.45" font-size="8.4" text-anchor="middle">15,234</text><text x="473" y="647.01" font-size="8.4" text-anchor="middle">36,410</text><text x="471.41" y="818.71" font-size="8.4" text-anchor="middle">15,486</text><text x="508" y="646.01" font-size="8.4" text-anchor="middle">36,044</text><text x="501.6" y="818.18" font-size="8.4" text-anchor="middle">15,666</text><text x="536" y="638.51" font-size="8.4" text-anchor="middle">37,309</text><text x="531.78" y="815.55" font-size="8.4" text-anchor="middle">16,568</text><text x="566" y="547.51" font-size="8.4" text-anchor="middle">40,690</text><text x="561.97" y="815.29" font-size="8.4" text-anchor="middle">16,654</text><text x="595.5" y="566.76" font-size="8.4" text-anchor="middle">35,127</text><text x="592.15" y="821.03" font-size="8.4" text-anchor="middle">14,694</text><text x="626" y="628.01" font-size="8.4" text-anchor="middle">34,626</text><text x="622.33" y="817.27" font-size="8.4" text-anchor="middle">15,978</text><text x="653.5" y="621.76" font-size="8.4" text-anchor="middle">35,001</text><text x="652.52" y="819.28" font-size="8.4" text-anchor="middle">15,291</text><text x="684" y="655.51" font-size="8.4" text-anchor="middle">29,667</text><text x="682.7" y="828.81" font-size="8.4" text-anchor="middle">12,033</text><text x="719" y="650.51" font-size="8.4" text-anchor="middle">28,702</text><text x="712.89" y="827.29" font-size="8.4" text-anchor="middle">12,554</text><text x="748" y="700.01" font-size="8.4" text-anchor="middle">22,583</text><text x="743.07" y="835.6" font-size="8.4" text-anchor="middle">9,712</text><text x="776.6" y="685.51" font-size="8.4" text-anchor="middle">24,317</text><text x="773.26" y="836.61" font-size="8.4" text-anchor="middle">9,368</text><text x="809" y="669.01" font-size="8.4" text-anchor="middle">30,033</text><text x="803.44" y="830.6" font-size="8.4" text-anchor="middle">11,420</text><text x="841" y="664.51" font-size="8.4" text-anchor="middle">30,050</text><text x="833.63" y="830.54" font-size="8.4" text-anchor="middle">11,442</text><text x="868.5" y="661.01" font-size="8.4" text-anchor="middle">27,816</text><text x="863.81" y="832.91" font-size="8.4" text-anchor="middle">10,632</text><text x="900" y="646.76" font-size="8.4" text-anchor="middle">33,677</text><text x="894" y="826.13" font-size="8.4" text-anchor="middle">12,948</text><text x="928" y="663.01" font-size="8.4" text-anchor="middle">32,898</text><text x="924.18" y="825.56" font-size="8.4" text-anchor="middle">13,143</text><text x="958" y="680.51" font-size="8.4" text-anchor="middle">30,127</text><text x="954.37" y="830.79" font-size="8.4" text-anchor="middle">11,355</text><text x="990.6" y="660.01" font-size="8.4" text-anchor="middle">31,245</text><text x="984.55" y="829.57" font-size="8.4" text-anchor="middle">11,774</text><text x="1013.75" y="628.01" font-size="8.4" text-anchor="middle">33,882</text><text x="1014.74" y="824.97" font-size="8.4" text-anchor="middle">13,345</text><text x="1044" y="651.76" font-size="8.4" text-anchor="middle">32,183</text><text x="1044.92" y="827.66" font-size="8.4" text-anchor="middle">12,426</text><text x="1076" y="634.01" font-size="8.4" text-anchor="middle">30,175</text><text x="1075.11" y="828.45" font-size="8.4" text-anchor="middle">12,156</text></g><g><path d="M131.88 690.84L135.87 697.56H127.89Z" fill="none" stroke="#383838" stroke-width="0.75"><title>△</title></path><text x="139" y="697.01" font-size="8.4" fill="#383838">2.5</text><path d="M131.88 707.31L135.87 714.03H127.89Z" fill="none" stroke="#383838" stroke-width="0.75"><title>△</title></path><text x="139" y="713.48" font-size="8.4" fill="#383838">8.1</text><path d="M131.88 722.84L135.87 729.56H127.89Z" fill="none" stroke="#383838" stroke-width="0.75"><title>△</title></path><text x="139" y="729.01" font-size="8.4" fill="#383838">9.8</text><text x="162.7" y="681.71" font-size="8.4" fill="#383838">7.3</text><path d="M162.07 696.66L166.06 703.38H158.08Z" fill="none" stroke="#383838" stroke-width="0.75"><title>△</title></path><text x="169.19" y="702.83" font-size="8.4" fill="#383838">1.6</text><path d="M162.07 715.54L166.06 722.26H158.08Z" fill="none" stroke="#383838" stroke-width="0.75"><title>△</title></path><text x="169.19" y="721.71" font-size="8.4" fill="#383838">5.0</text><path d="M192.25 713.84L196.24 720.56H188.26Z" fill="none" stroke="#383838" stroke-width="0.75"><title>△</title></path><text x="199.37" y="720.01" font-size="8.4" fill="#383838">17.1</text><path d="M192.25 726.96L196.24 733.68H188.26Z" fill="none" stroke="#383838" stroke-width="0.75"><title>△</title></path><text x="199.37" y="733.13" font-size="8.4" fill="#383838">20.1</text><path d="M192.25 740.84L196.24 747.56H188.26Z" fill="none" stroke="#383838" stroke-width="0.75"><title>△</title></path><text x="199.37" y="747.01" font-size="8.4" fill="#383838">21.6</text><path d="M222.44 796.09L226.43 802.81H218.45Z" fill="none" stroke="#383838" stroke-width="0.75"><title>△</title></path><text x="229.55" y="802.25" font-size="8.4" fill="#383838">62.3</text><path d="M222.44 769.84L226.43 776.56H218.45Z" fill="none" stroke="#383838" stroke-width="0.75"><title>△</title></path><text x="229.55" y="776.01" font-size="8.4" fill="#383838">40.6</text><path d="M222.44 743.34L226.43 750.06H218.45Z" fill="none" stroke="#383838" stroke-width="0.75"><title>△</title></path><text x="229.55" y="749.51" font-size="8.4" fill="#383838">30.1</text><path d="M252.62 766.84L256.61 773.56H248.63Z" fill="none" stroke="#383838" stroke-width="0.75"><title>△</title></path><text x="259.74" y="773.01" font-size="8.4" fill="#383838">38.1</text><path d="M252.62 726.64L256.61 733.36H248.63Z" fill="none" stroke="#383838" stroke-width="0.75"><title>△</title></path><text x="259.74" y="732.8" font-size="8.4" fill="#383838">19.9</text><path d="M252.62 711.73L256.61 718.45H248.63Z" fill="none" stroke="#383838" stroke-width="0.75"><title>△</title></path><text x="259.74" y="717.9" font-size="8.4" fill="#383838">10.8</text><path d="M282.81 757.84L286.8 764.56H278.82Z" fill="none" stroke="#383838" stroke-width="0.75"><title>△</title></path><text x="289.92" y="764.01" font-size="8.4" fill="#383838">35.1</text><path d="M282.81 739.84L286.8 746.56H278.82Z" fill="none" stroke="#383838" stroke-width="0.75"><title>△</title></path><text x="289.92" y="746.01" font-size="8.4" fill="#383838">22.6</text><path d="M278.39 699.34L282.38 706.06H274.4Z" fill="none" stroke="#383838" stroke-width="0.75"><title>△</title></path><text x="285.51" y="705.51" font-size="8.4" fill="#383838">14.5</text><path d="M312.99 726.84L316.98 733.56H309Z" fill="none" stroke="#383838" stroke-width="0.75"><title>△</title></path><text x="320.11" y="733.01" font-size="8.4" fill="#383838">16.4</text><path d="M312.99 706.16L316.98 712.88H309Z" fill="none" stroke="#383838" stroke-width="0.75"><title>△</title></path><text x="320.11" y="712.33" font-size="8.4" fill="#383838">7.4</text><path d="M312.99 692.84L316.98 699.56H309Z" fill="none" stroke="#383838" stroke-width="0.75"><title>△</title></path><text x="320.11" y="699.01" font-size="8.4" fill="#383838">2.9</text><path d="M343.18 724.84L347.17 731.56H339.19Z" fill="none" stroke="#383838" stroke-width="0.75"><title>△</title></path><text x="350.29" y="731.01" font-size="8.4" fill="#383838">12.0</text><path d="M343.18 704.36L347.17 711.08H339.19Z" fill="none" stroke="#383838" stroke-width="0.75"><title>△</title></path><text x="350.29" y="710.53" font-size="8.4" fill="#383838">6.3</text><path d="M343.18 691.84L347.17 698.56H339.19Z" fill="none" stroke="#383838" stroke-width="0.75"><title>△</title></path><text x="350.29" y="698.01" font-size="8.4" fill="#383838">3.5</text><path d="M373.36 732.84L377.35 739.56H369.37Z" fill="none" stroke="#383838" stroke-width="0.75"><title>△</title></path><text x="380.48" y="739.01" font-size="8.4" fill="#383838">14.7</text><path d="M373.36 715.84L377.35 722.56H369.37Z" fill="none" stroke="#383838" stroke-width="0.75"><title>△</title></path><text x="380.48" y="722.01" font-size="8.4" fill="#383838">9.3</text><path d="M373.36 689.34L377.35 696.06H369.37Z" fill="none" stroke="#383838" stroke-width="0.75"><title>△</title></path><text x="380.48" y="695.51" font-size="8.4" fill="#383838">6.0</text><path d="M403.55 721.84L407.54 728.56H399.56Z" fill="none" stroke="#383838" stroke-width="0.75"><title>△</title></path><text x="410.66" y="728.01" font-size="8.4" fill="#383838">6.2</text><path d="M403.55 702.84L407.54 709.56H399.56Z" fill="none" stroke="#383838" stroke-width="0.75"><title>△</title></path><text x="410.66" y="709.01" font-size="8.4" fill="#383838">3.9</text><path d="M403.55 690.59L407.54 697.31H399.56Z" fill="none" stroke="#383838" stroke-width="0.75"><title>△</title></path><text x="410.66" y="696.76" font-size="8.4" fill="#383838">2.8</text><path d="M433.73 721.84L437.72 728.56H429.74Z" fill="none" stroke="#383838" stroke-width="0.75"><title>△</title></path><text x="440.85" y="728.01" font-size="8.4" fill="#383838">10.2</text><path d="M433.73 700.59L437.72 707.31H429.74Z" fill="none" stroke="#383838" stroke-width="0.75"><title>△</title></path><text x="440.85" y="706.76" font-size="8.4" fill="#383838">5.0</text><path d="M433.73 690.59L437.72 697.31H429.74Z" fill="none" stroke="#383838" stroke-width="0.75"><title>△</title></path><text x="440.85" y="696.76" font-size="8.4" fill="#383838">2.5</text><path d="M463.92 740.84L467.91 747.56H459.93Z" fill="none" stroke="#383838" stroke-width="0.75"><title>△</title></path><text x="471.03" y="747.01" font-size="8.4" fill="#383838">20.0</text><path d="M463.92 716.84L467.91 723.56H459.93Z" fill="none" stroke="#383838" stroke-width="0.75"><title>△</title></path><text x="471.03" y="723.01" font-size="8.4" fill="#383838">13.3</text><path d="M463.92 689.34L467.91 696.06H459.93Z" fill="none" stroke="#383838" stroke-width="0.75"><title>△</title></path><text x="471.03" y="695.51" font-size="8.4" fill="#383838">10.0</text><path d="M494.1 730.84L498.09 737.56H490.11Z" fill="none" stroke="#383838" stroke-width="0.75"><title>△</title></path><text x="501.22" y="737.01" font-size="8.4" fill="#383838">15.8</text><path d="M494.1 702.84L498.09 709.56H490.11Z" fill="none" stroke="#383838" stroke-width="0.75"><title>△</title></path><text x="501.22" y="709.01" font-size="8.4" fill="#383838">5.9</text><path d="M494.1 689.84L498.09 696.56H490.11Z" fill="none" stroke="#383838" stroke-width="0.75"><title>△</title></path><text x="501.22" y="696.01" font-size="8.4" fill="#383838">1.0</text><path d="M524.29 741.21L528.28 747.93H520.3Z" fill="none" stroke="#383838" stroke-width="0.75"><title>△</title></path><text x="531.4" y="747.38" font-size="8.4" fill="#383838">28.8</text><path d="M524.29 718.61L528.28 725.33H520.3Z" fill="none" stroke="#383838" stroke-width="0.75"><title>△</title></path><text x="531.4" y="724.78" font-size="8.4" fill="#383838">15.0</text><path d="M524.29 696.84L528.28 703.56H520.3Z" fill="none" stroke="#383838" stroke-width="0.75"><title>△</title></path><text x="531.4" y="703.01" font-size="8.4" fill="#383838">7.3</text><path d="M554.47 707.47L558.46 714.19H550.48Z" fill="none" stroke="#383838" stroke-width="0.75"><title>△</title></path><text x="561.59" y="713.64" font-size="8.4" fill="#383838">8.2</text><text x="550.08" y="695.51" font-size="8.4" fill="#383838">4.6</text><text x="550.08" y="681.37" font-size="8.4" fill="#383838">11.5</text><text x="580.27" y="502.5" font-size="8.4" fill="#383838">120.7</text><text x="583" y="606.84" font-size="8.4" fill="#383838">57.0</text><text x="580" y="623.01" font-size="8.4" fill="#383838">40.4</text><text x="610.45" y="666.14" font-size="8.4" fill="#383838">20.8</text><text x="610.45" y="685.51" font-size="8.4" fill="#383838">3.5</text><path d="M611.39 710.59L615.38 717.31H607.4Z" fill="none" stroke="#383838" stroke-width="0.75"><title>△</title></path><text x="618.51" y="716.76" font-size="8.4" fill="#383838">2.4</text><text x="640.63" y="657.13" font-size="8.4" fill="#383838">26.3</text><text x="640.63" y="681.53" font-size="8.4" fill="#383838">11.4</text><text x="632" y="704.01" font-size="8.4" fill="#383838">5.6</text><path d="M675.21 675.59L679.2 682.31H671.22Z" fill="none" stroke="#383838" stroke-width="0.75"><title>△</title></path><text x="682.33" y="681.76" font-size="8.4" fill="#383838">8.3</text><path d="M675.21 708.29L679.2 715.01H671.22Z" fill="none" stroke="#383838" stroke-width="0.75"><title>△</title></path><text x="682.33" y="714.46" font-size="8.4" fill="#383838">8.7</text><path d="M671.39 732.84L675.38 739.56H667.4Z" fill="none" stroke="#383838" stroke-width="0.75"><title>△</title></path><text x="678.51" y="739.01" font-size="8.4" fill="#383838">8.9</text><path d="M706.39 763.84L710.38 770.56H702.4Z" fill="none" stroke="#383838" stroke-width="0.75"><title>△</title></path><text x="713.51" y="770.01" font-size="8.4" fill="#383838">26.7</text><path d="M704.39 747.64L708.38 754.36H700.4Z" fill="none" stroke="#383838" stroke-width="0.75"><title>△</title></path><text x="711.51" y="753.81" font-size="8.4" fill="#383838">21.8</text><path d="M704.39 697.84L708.38 704.56H700.4Z" fill="none" stroke="#383838" stroke-width="0.75"><title>△</title></path><text x="711.51" y="704.01" font-size="8.4" fill="#383838">19.6</text><path d="M735.58 751.14L739.57 757.86H731.59Z" fill="none" stroke="#383838" stroke-width="0.75"><title>△</title></path><text x="742.7" y="757.31" font-size="8.4" fill="#383838">20.2</text><path d="M735.58 726.84L739.57 733.56H731.59Z" fill="none" stroke="#383838" stroke-width="0.75"><title>△</title></path><text x="742.7" y="733.01" font-size="8.4" fill="#383838">12.7</text><path d="M735.58 707.84L739.57 714.56H731.59Z" fill="none" stroke="#383838" stroke-width="0.75"><title>△</title></path><text x="742.7" y="714.01" font-size="8.4" fill="#383838">9.0</text><path d="M765.76 745.34L769.75 752.06H761.77Z" fill="none" stroke="#383838" stroke-width="0.75"><title>△</title></path><text x="772.88" y="751.51" font-size="8.4" fill="#383838">23.6</text><path d="M765.76 728.84L769.75 735.56H761.77Z" fill="none" stroke="#383838" stroke-width="0.75"><title>△</title></path><text x="772.88" y="735.01" font-size="8.4" fill="#383838">18.0</text><path d="M765.76 712.84L769.75 719.56H761.77Z" fill="none" stroke="#383838" stroke-width="0.75"><title>△</title></path><text x="772.88" y="719.01" font-size="8.4" fill="#383838">15.2</text><path d="M795.95 759.34L799.94 766.06H791.96Z" fill="none" stroke="#383838" stroke-width="0.75"><title>△</title></path><text x="803.07" y="765.51" font-size="8.4" fill="#383838">33.5</text><path d="M795.95 737.94L799.94 744.66H791.96Z" fill="none" stroke="#383838" stroke-width="0.75"><title>△</title></path><text x="803.07" y="744.11" font-size="8.4" fill="#383838">26.8</text><path d="M795.39 716.14L799.38 722.86H791.4Z" fill="none" stroke="#383838" stroke-width="0.75"><title>△</title></path><text x="802.51" y="722.31" font-size="8.4" fill="#383838">23.9</text><path d="M826.13 750.84L830.12 757.56H822.14Z" fill="none" stroke="#383838" stroke-width="0.75"><title>△</title></path><text x="833.25" y="757.01" font-size="8.4" fill="#383838">25.0</text><path d="M826.13 724.51L830.12 731.23H822.14Z" fill="none" stroke="#383838" stroke-width="0.75"><title>△</title></path><text x="833.25" y="730.67" font-size="8.4" fill="#383838">18.6</text><path d="M826.13 711.54L830.12 718.26H822.14Z" fill="none" stroke="#383838" stroke-width="0.75"><title>△</title></path><text x="833.25" y="717.71" font-size="8.4" fill="#383838">15.9</text><path d="M856.32 753.54L860.31 760.26H852.33Z" fill="none" stroke="#383838" stroke-width="0.75"><title>△</title></path><text x="863.44" y="759.71" font-size="8.4" fill="#383838">26.1</text><path d="M856.32 731.84L860.31 738.56H852.33Z" fill="none" stroke="#383838" stroke-width="0.75"><title>△</title></path><text x="863.44" y="738.01" font-size="8.4" fill="#383838">20.0</text><path d="M856.32 711.54L860.31 718.26H852.33Z" fill="none" stroke="#383838" stroke-width="0.75"><title>△</title></path><text x="863.44" y="717.71" font-size="8.4" fill="#383838">17.5</text><path d="M886.5 756.84L890.49 763.56H882.51Z" fill="none" stroke="#383838" stroke-width="0.75"><title>△</title></path><text x="893.62" y="763.01" font-size="8.4" fill="#383838">32.1</text><path d="M886.5 734.34L890.49 741.06H882.51Z" fill="none" stroke="#383838" stroke-width="0.75"><title>△</title></path><text x="893.62" y="740.51" font-size="8.4" fill="#383838">25.6</text><path d="M886.5 716.84L890.49 723.56H882.51Z" fill="none" stroke="#383838" stroke-width="0.75"><title>△</title></path><text x="893.62" y="723.01" font-size="8.4" fill="#383838">22.8</text><path d="M916.69 750.84L920.68 757.56H912.7Z" fill="none" stroke="#383838" stroke-width="0.75"><title>△</title></path><text x="923.81" y="757.01" font-size="8.4" fill="#383838">21.8</text><path d="M916.69 732.84L920.68 739.56H912.7Z" fill="none" stroke="#383838" stroke-width="0.75"><title>△</title></path><text x="923.81" y="739.01" font-size="8.4" fill="#383838">13.5</text><path d="M916.69 714.34L920.68 721.06H912.7Z" fill="none" stroke="#383838" stroke-width="0.75"><title>△</title></path><text x="923.81" y="720.51" font-size="8.4" fill="#383838">9.7</text><path d="M946.87 707.84L950.86 714.56H942.88Z" fill="none" stroke="#383838" stroke-width="0.75"><title>△</title></path><text x="953.99" y="714.01" font-size="8.4" fill="#383838">21.1</text><path d="M946.87 726.31L950.86 733.03H942.88Z" fill="none" stroke="#383838" stroke-width="0.75"><title>△</title></path><text x="953.99" y="732.48" font-size="8.4" fill="#383838">19.7</text><path d="M946.87 747.84L950.86 754.56H942.88Z" fill="none" stroke="#383838" stroke-width="0.75"><title>△</title></path><text x="953.99" y="754.01" font-size="8.4" fill="#383838">19.1</text><path d="M977.06 755.84L981.05 762.56H973.07Z" fill="none" stroke="#383838" stroke-width="0.75"><title>△</title></path><text x="984.18" y="762.01" font-size="8.4" fill="#383838">22.7</text><path d="M977.06 729.34L981.05 736.06H973.07Z" fill="none" stroke="#383838" stroke-width="0.75"><title>△</title></path><text x="984.18" y="735.51" font-size="8.4" fill="#383838">16.7</text><path d="M977.06 711.84L981.05 718.56H973.07Z" fill="none" stroke="#383838" stroke-width="0.75"><title>△</title></path><text x="984.18" y="718.01" font-size="8.4" fill="#383838">14.2</text><path d="M1009.39 737.12L1013.38 743.84H1005.4Z" fill="none" stroke="#383838" stroke-width="0.75"><title>△</title></path><text x="1016.51" y="743.29" font-size="8.4" fill="#383838">26.3</text><path d="M1014.39 718.61L1018.38 725.33H1010.4Z" fill="none" stroke="#383838" stroke-width="0.75"><title>△</title></path><text x="1021.51" y="724.78" font-size="8.4" fill="#383838">15.0</text><path d="M1007.24 707.84L1011.23 714.56H1003.25Z" fill="none" stroke="#383838" stroke-width="0.75"><title>△</title></path><text x="1014.36" y="714.01" font-size="8.4" fill="#383838">9.8</text><path d="M1039.39 726.84L1043.38 733.56H1035.4Z" fill="none" stroke="#383838" stroke-width="0.75"><title>△</title></path><text x="1046.51" y="733.01" font-size="8.4" fill="#383838">12.7</text><path d="M1039.39 704.03L1043.38 710.75H1035.4Z" fill="none" stroke="#383838" stroke-width="0.75"><title>△</title></path><text x="1046.51" y="710.2" font-size="8.4" fill="#383838">6.1</text><path d="M1039.39 679.34L1043.38 686.06H1035.4Z" fill="none" stroke="#383838" stroke-width="0.75"><title>△</title></path><text x="1046.51" y="685.51" font-size="8.4" fill="#383838">3.2</text><text x="1066" y="714.01" font-size="8.4" fill="#383838">3.3</text><text x="1066" y="688.74" font-size="8.4" fill="#383838">7.0</text><text x="1064" y="674.01" font-size="8.4" fill="#383838">8.5</text><path d="M1100.39 707.84L1104.38 714.56H1096.4Z" fill="none" stroke="#383838" stroke-width="0.75"><title>△</title></path><text x="1107.51" y="714.01" font-size="8.4" fill="#383838">3.2</text><text x="1094" y="696.76" font-size="8.4" fill="#383838">2.6</text><text x="1094" y="685.51" font-size="8.4" fill="#383838">5.1</text></g></svg><svg style="position:absolute;left:0px;top:915px" width="1200" height="497" viewBox="0 915 1200 497"><g fill="#1a1a1a"><text x="557.57" y="933.6" font-size="17" textLength="162">適判申請件数の推移</text><text x="68.09" y="940" font-size="14" textLength="37">(件)</text></g><path d="M95 1276.5H1128" stroke="#777" stroke-width="1"/><path d="M95 1195.5H1128" stroke="#777" stroke-width="1"/><path d="M95 1114.78H1128" stroke="#b2b2b2" stroke-width="1.5"/><path d="M95 1034.5H1128" stroke="#777" stroke-width="1"/><path d="M95 953.3H1128" stroke="#c8c8c8" stroke-width="3"/><path d="M126.3 1357v-4M157.61 1357v-4M188.91 1357v-4M220.21 1357v-4M251.52 1357v-4M282.82 1357v-4M314.12 1357v-4M345.42 1357v-4M376.73 1357v-4M408.03 1357v-4M439.33 1357v-4M470.64 1357v-4M501.94 1357v-4M533.24 1357v-4M564.55 1357v-4M595.85 1357v-4M627.15 1357v-4M658.45 1357v-4M689.76 1357v-4M721.06 1357v-4M752.36 1357v-4M783.67 1357v-4M814.97 1357v-4M846.27 1357v-4M877.58 1357v-4M908.88 1357v-4M940.18 1357v-4M971.48 1357v-4M1002.79 1357v-4M1034.09 1357v-4M1065.39 1357v-4M1096.7 1357v-4M1128 1357v-4" stroke="#b8b8b8" stroke-width="1.2" fill="none"/><path d="M95 1276.5h4M95 1195.5h4M95 1114.5h4M95 1034.5h4M95 953.5h4" stroke="#444" stroke-width="1" fill="none"/><g><rect x="167.41" y="1356.6" width="11.7" height="0.3" fill="#A0CDFF" stroke="#1212E4" stroke-width="1.2"/><rect x="198.71" y="1346.34" width="11.7" height="9.76" fill="#A0CDFF" stroke="#1212E4" stroke-width="2.4"/><rect x="230.01" y="1294.02" width="11.7" height="62.08" fill="#A0CDFF" stroke="#1212E4" stroke-width="2.4"/><rect x="261.32" y="1222.97" width="11.7" height="133.13" fill="#A0CDFF" stroke="#1212E4" stroke-width="2.4"/><rect x="292.62" y="1077.96" width="11.7" height="278.14" fill="#A0CDFF" stroke="#1212E4" stroke-width="2.4"/><rect x="323.92" y="1061.01" width="11.7" height="295.09" fill="#A0CDFF" stroke="#1212E4" stroke-width="2.4"/><rect x="355.23" y="1057.78" width="11.7" height="298.32" fill="#A0CDFF" stroke="#1212E4" stroke-width="2.4"/><rect x="386.53" y="1082.81" width="11.7" height="273.29" fill="#A0CDFF" stroke="#1212E4" stroke-width="2.4"/><rect x="417.83" y="1032.59" width="11.7" height="323.51" fill="#A0CDFF" stroke="#1212E4" stroke-width="2.4"/><rect x="449.13" y="1032.91" width="11.7" height="323.19" fill="#A0CDFF" stroke="#1212E4" stroke-width="2.4"/><rect x="480.44" y="1002.55" width="11.7" height="353.55" fill="#A0CDFF" stroke="#1212E4" stroke-width="2.4"/><rect x="511.74" y="1005.62" width="11.7" height="350.48" fill="#A0CDFF" stroke="#1212E4" stroke-width="2.4"/><rect x="543.04" y="1001.42" width="11.7" height="354.68" fill="#A0CDFF" stroke="#1212E4" stroke-width="2.4"/><rect x="574.35" y="983.98" width="11.7" height="372.12" fill="#A0CDFF" stroke="#1212E4" stroke-width="2.4"/><rect x="605.65" y="1051.64" width="11.7" height="304.46" fill="#A0CDFF" stroke="#1212E4" stroke-width="2.4"/><rect x="636.95" y="1038.4" width="11.7" height="317.7" fill="#A0CDFF" stroke="#1212E4" stroke-width="2.4"/><rect x="668.26" y="1040.5" width="11.7" height="315.6" fill="#A0CDFF" stroke="#1212E4" stroke-width="2.4"/><rect x="699.56" y="1113.49" width="11.7" height="242.61" fill="#A0CDFF" stroke="#1212E4" stroke-width="2.4"/><rect x="730.86" y="1120.27" width="11.7" height="235.83" fill="#A0CDFF" stroke="#1212E4" stroke-width="2.4"/><rect x="762.17" y="1156.6" width="11.7" height="199.5" fill="#A0CDFF" stroke="#1212E4" stroke-width="2.4"/><rect x="793.47" y="1152.89" width="11.7" height="203.21" fill="#A0CDFF" stroke="#1212E4" stroke-width="2.4"/><rect x="824.77" y="1139.97" width="11.7" height="216.13" fill="#A0CDFF" stroke="#1212E4" stroke-width="2.4"/><rect x="856.07" y="1150.63" width="11.7" height="205.47" fill="#A0CDFF" stroke="#1212E4" stroke-width="2.4"/><rect x="887.38" y="1173.24" width="11.7" height="182.86" fill="#A0CDFF" stroke="#1212E4" stroke-width="2.4"/><rect x="918.68" y="1136.74" width="11.7" height="219.36" fill="#A0CDFF" stroke="#1212E4" stroke-width="2.4"/><rect x="949.98" y="1152.73" width="11.7" height="203.37" fill="#A0CDFF" stroke="#1212E4" stroke-width="2.4"/><rect x="981.29" y="1170.49" width="11.7" height="185.61" fill="#A0CDFF" stroke="#1212E4" stroke-width="2.4"/><rect x="1012.59" y="1175.5" width="11.7" height="180.6" fill="#A0CDFF" stroke="#1212E4" stroke-width="2.4"/><rect x="1043.89" y="1165.32" width="11.7" height="190.78" fill="#A0CDFF" stroke="#1212E4" stroke-width="2.4"/><rect x="1075.2" y="1170.01" width="11.7" height="186.09" fill="#A0CDFF" stroke="#1212E4" stroke-width="2.4"/><rect x="1106.5" y="1184.7" width="11.7" height="171.4" fill="#A0CDFF" stroke="#1212E4" stroke-width="2.4"/></g><path d="M95 952.3V1358" stroke="#000" stroke-width="1.2"/><path d="M94.4 1357.3H1128" stroke="#000" stroke-width="1.9"/><g fill="#1a1a1a"><text x="72.5" y="1363.31" font-size="14" text-anchor="end">0</text><text x="72.5" y="1282.57" font-size="14" text-anchor="end">500</text><text x="72.5" y="1201.83" font-size="14" text-anchor="end">1,000</text><text x="72.5" y="1121.09" font-size="14" text-anchor="end">1,500</text><text x="72.5" y="1040.35" font-size="14" text-anchor="end">2,000</text><text x="72.5" y="959.61" font-size="14" text-anchor="end">2,500</text></g><g fill="#333"><text x="110.05" y="1343.64" font-size="12.4" text-anchor="middle">0</text><text x="141.35" y="1343.64" font-size="12.4" text-anchor="middle">0</text><text x="172.66" y="1343.48" font-size="12.4" text-anchor="middle">1</text><text x="203.96" y="1332.98" font-size="12.4" text-anchor="middle">66</text><text x="235.26" y="1280.66" font-size="12.4" text-anchor="middle">390</text><text x="266.57" y="1209.61" font-size="12.4" text-anchor="middle">830</text><text x="297.87" y="1064.6" font-size="12.4" text-anchor="middle">1,728</text><text x="329.17" y="1047.65" font-size="12.4" text-anchor="middle">1,833</text><text x="363.08" y="1027.22" font-size="12.4" text-anchor="middle">1,853</text><text x="391.78" y="1069.45" font-size="12.4" text-anchor="middle">1,698</text><text x="419.78" y="998.43" font-size="12.4" text-anchor="middle">2,009</text><text x="449.88" y="1019.55" font-size="12.4" text-anchor="middle">2,007</text><text x="485.69" y="989.19" font-size="12.4" text-anchor="middle">2,195</text><text x="516.99" y="973.06" font-size="12.4" text-anchor="middle">2,176</text><text x="548.29" y="988.06" font-size="12.4" text-anchor="middle">2,202</text><text x="579.6" y="970.62" font-size="12.4" text-anchor="middle">2,310</text><text x="610.9" y="1038.28" font-size="12.4" text-anchor="middle">1,891</text><text x="642.2" y="1003.84" font-size="12.4" text-anchor="middle">1,973</text><text x="673.51" y="1027.14" font-size="12.4" text-anchor="middle">1,960</text><text x="704.81" y="1100.13" font-size="12.4" text-anchor="middle">1,508</text><text x="736.11" y="1106.91" font-size="12.4" text-anchor="middle">1,466</text><text x="767.42" y="1143.24" font-size="12.4" text-anchor="middle">1,241</text><text x="798.72" y="1100.33" font-size="12.4" text-anchor="middle">1,264</text><text x="830.02" y="1126.61" font-size="12.4" text-anchor="middle">1,344</text><text x="861.32" y="1137.27" font-size="12.4" text-anchor="middle">1,278</text><text x="892.63" y="1159.87" font-size="12.4" text-anchor="middle">1,138</text><text x="923.93" y="1123.38" font-size="12.4" text-anchor="middle">1,364</text><text x="955.23" y="1139.37" font-size="12.4" text-anchor="middle">1,265</text><text x="986.54" y="1157.13" font-size="12.4" text-anchor="middle">1,155</text><text x="1017.84" y="1162.14" font-size="12.4" text-anchor="middle">1,124</text><text x="1049.14" y="1151.96" font-size="12.4" text-anchor="middle">1,187</text><text x="1080.45" y="1156.65" font-size="12.4" text-anchor="middle">1,158</text><text x="1111.75" y="1171.34" font-size="12.4" text-anchor="middle">1,067</text></g><g fill="#1a1a1a" font-size="13"><text x="100.09" y="1388.3">4月</text><text x="131.21" y="1388.3">5月</text><text x="162.53" y="1388.3">6月</text><text x="193.83" y="1388.3">7月</text><text x="225.23" y="1388.3">8月</text><text x="256.4" y="1388.3">9月</text><text x="283.82" y="1388.3">10月</text><text x="315.12" y="1388.3">11月</text><text x="346.42" y="1388.3">12月</text><text x="381.18" y="1388.3">1月</text><text x="413.02" y="1388.3">2月</text><text x="444.31" y="1388.3">3月</text><text x="475.73" y="1388.3">4月</text><text x="506.85" y="1388.3">5月</text><text x="538.16" y="1388.3">6月</text><text x="569.47" y="1388.3">7月</text><text x="600.87" y="1388.3">8月</text><text x="632.04" y="1388.3">9月</text><text x="659.45" y="1388.3">10月</text><text x="690.76" y="1388.3">11月</text><text x="722.06" y="1388.3">12月</text><text x="756.81" y="1388.3">1月</text><text x="788.66" y="1388.3">2月</text><text x="819.94" y="1388.3">3月</text><text x="851.36" y="1388.3">4月</text><text x="882.49" y="1388.3">5月</text><text x="913.8" y="1388.3">6月</text><text x="945.1" y="1388.3">7月</text><text x="976.51" y="1388.3">8月</text><text x="1007.68" y="1388.3">9月</text><text x="1035.09" y="1388.3">10月</text><text x="1066.39" y="1388.3">11月</text><text x="1097.7" y="1388.3">12月</text><text x="93.79" y="1406">平成19年</text><text x="376.02" y="1406">平成20年</text><text x="757.66" y="1406">平成21年</text></g></svg>
</div></body></html>
